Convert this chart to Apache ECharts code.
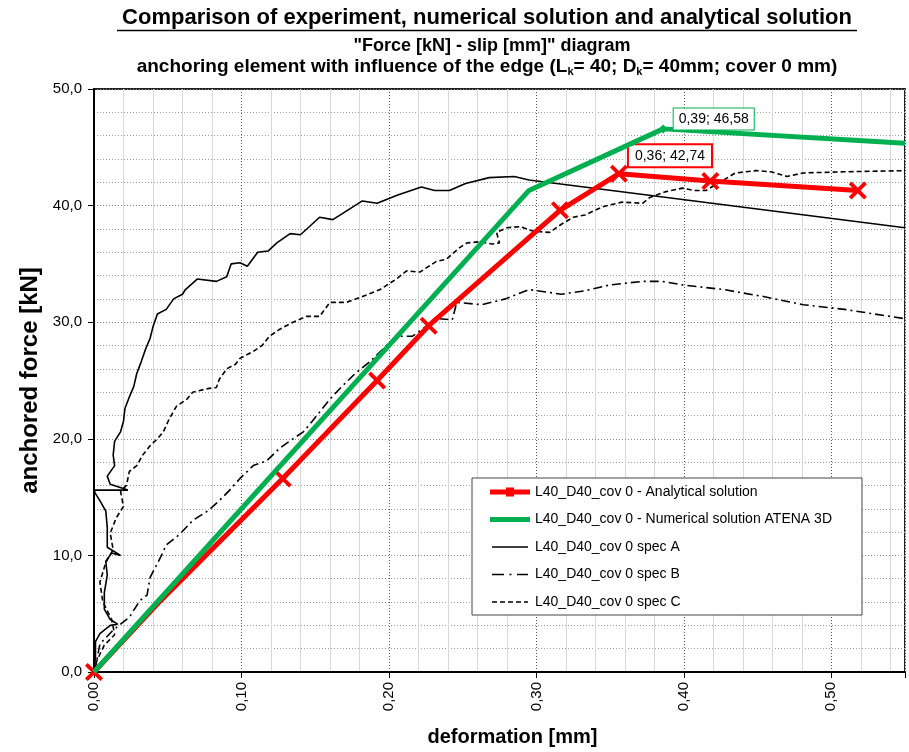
<!DOCTYPE html>
<html><head><meta charset="utf-8">
<script src="https://cdn.jsdelivr.net/npm/echarts@6/dist/echarts.min.js"></script>
<style>html,body{margin:0;padding:0;background:#fff}#c{width:909px;height:752px}</style>
</head><body><div id="c"></div>
<script>
// ---- data ----
const seriesNames = [
  'L40_D40_cov 0 - Analytical solution',
  'L40_D40_cov 0 - Numerical solution ATENA 3D',
  'L40_D40_cov 0 spec A',
  'L40_D40_cov 0 spec B',
  'L40_D40_cov 0 spec C'
];
const analyticalX = [0, 0.045, 0.128, 0.192, 0.227, 0.316, 0.356, 0.418, 0.518];
const analyticalY = [0, 6.1, 16.6, 25.0, 29.7, 39.6, 42.74, 42.1, 41.3];
const analyticalNoMarker = [1];
const analyticalLabelIndex = 6;
const numericalX = [0, 0.295, 0.386, 0.55];
const numericalY = [0, 41.3, 46.58, 45.35];
const numericalLabelIndex = 2;
const specAX = [0,0.001,0.001,0.004,0.011,0.016,0.011,0.007,0.007,0.009,0.008,0.012,0.018,0.009,0.009,0.008,0.004,0.001,0.0,0.023,0.011,0.009,0.014,0.013,0.014,0.018,0.020,0.021,0.024,0.027,0.029,0.032,0.035,0.038,0.040,0.043,0.049,0.054,0.060,0.062,0.070,0.083,0.090,0.093,0.099,0.104,0.111,0.118,0.124,0.133,0.140,0.153,0.162,0.182,0.192,0.206,0.222,0.231,0.241,0.252,0.268,0.285,0.295,0.55];
const specAY = [0,1.3,2.6,3.3,4.0,4.1,4.5,5.4,6.8,8.3,9.5,10.2,10.0,10.7,12.4,13.8,14.7,15.3,15.6,15.6,16.1,16.8,17.7,18.6,19.8,20.6,21.5,22.6,23.6,24.5,25.6,26.6,27.7,28.6,29.6,30.7,31.1,32.0,32.4,32.8,33.7,33.5,33.9,35.0,35.1,34.8,36.0,36.1,36.8,37.6,37.5,39.0,38.8,40.4,40.2,40.9,41.6,41.3,41.3,41.9,42.4,42.5,42.2,38.1];
const specBX = [0,0.001,0.004,0.013,0.018,0.024,0.031,0.036,0.038,0.045,0.049,0.058,0.067,0.077,0.085,0.092,0.099,0.108,0.117,0.126,0.135,0.142,0.148,0.160,0.169,0.178,0.187,0.196,0.205,0.216,0.226,0.234,0.243,0.246,0.263,0.279,0.295,0.317,0.333,0.350,0.372,0.385,0.399,0.427,0.454,0.481,0.509,0.55];
const specBY = [0,0.4,2.4,3.6,4.1,4.7,6.1,6.6,8.1,9.8,10.9,11.8,13.0,13.8,14.7,15.6,16.6,17.7,18.1,19.2,20.0,20.6,21.5,23.4,24.6,25.7,26.6,27.7,28.8,28.8,29.7,30.3,30.2,31.7,31.5,32.0,32.8,32.4,32.7,33.2,33.5,33.5,33.2,32.8,32.2,31.5,31.1,30.3];
const specCX = [0,0.002,0.007,0.014,0.012,0.006,0.004,0.008,0.013,0.011,0.015,0.020,0.018,0.022,0.024,0.029,0.033,0.038,0.043,0.047,0.051,0.056,0.063,0.067,0.077,0.083,0.085,0.090,0.096,0.099,0.108,0.114,0.119,0.126,0.135,0.144,0.153,0.160,0.171,0.182,0.194,0.205,0.212,0.221,0.232,0.239,0.248,0.253,0.262,0.270,0.275,0.273,0.280,0.289,0.298,0.309,0.317,0.325,0.333,0.345,0.358,0.372,0.377,0.388,0.399,0.407,0.415,0.423,0.435,0.449,0.459,0.470,0.481,0.509,0.55];
const specCY = [0,1.0,2.3,3.2,4.5,6.0,7.7,9.4,10.5,11.9,13.2,14.2,15.5,16.0,17.2,17.7,18.6,19.4,20.0,20.6,21.7,22.8,23.4,24.0,24.3,24.4,25.1,26.0,26.4,26.9,27.5,28.0,28.8,29.4,30.0,30.5,30.5,31.7,31.7,32.2,32.8,33.7,34.4,34.3,35.2,35.4,36.4,36.8,36.9,36.7,36.8,37.7,38.1,38.2,37.8,37.7,38.4,39.0,39.2,39.9,40.3,40.2,40.7,41.2,41.5,41.3,41.3,41.9,42.8,43.0,42.9,42.5,42.8,42.9,43.0];
const titleLines = [
  'Comparison of experiment, numerical solution and analytical solution',
  '"Force [kN] - slip [mm]" diagram',
  'anchoring element with influence of the edge (L{s|k}= 40; D{s|k}= 40mm; cover 0 mm)'
];
const xAxisName = 'deformation [mm]';
const yAxisName = 'anchored force [kN]';
const xMin = 0, xMax = 0.55, xMajor = 0.1, xMinor = 0.02;
const yMin = 0, yMax = 50, yMajor = 10, yMinor = 2;

// ---- helpers ----
const zip = (xs, ys) => xs.slice(0, Math.min(xs.length, ys.length)).map((x, i) => [x, ys[i]]);
const comma = (v, d) => v.toFixed(d).replace('.', ',');
const pairLabel = p => comma(p.value[0], 2) + '; ' + comma(p.value[1], 2);
const crossPath = 'path://M0,3 L3,0 L10,7 L17,0 L20,3 L13,10 L20,17 L17,20 L10,13 L3,20 L0,17 L7,10 Z';
const FONT = '"Liberation Sans", Arial, sans-serif';

// legend icons drawn in a 40x14 box (tiny corner triangles fix the bounding box)
const BOX = 'M0,0 L0.05,0 L0,0.05 Z M40,14 L39.95,14 L40,13.95 Z ';
const bar = (x1, x2, y1, y2) => `M${x1},${y1} L${x2},${y1} L${x2},${y2} L${x1},${y2} Z `;
const iconRed = 'path://' + BOX + bar(0, 40, 4.6, 9.4) + bar(16, 24, 2.5, 11.5);
const iconGreen = 'path://' + BOX + bar(0, 40, 4.5, 9.5);
const iconA = 'path://' + BOX + bar(2, 38, 6.2, 7.8);
const iconB = 'path://' + BOX + bar(2, 14, 6.2, 7.8) + bar(19.5, 21.5, 6.2, 7.8) + bar(27, 38, 6.2, 7.8);
const iconC = 'path://' + BOX + bar(2, 7, 6.2, 7.8) + bar(10, 15, 6.2, 7.8) + bar(18, 23, 6.2, 7.8) + bar(26, 31, 6.2, 7.8) + bar(34, 38, 6.2, 7.8);
const legendIcons = [iconRed, iconGreen, iconA, iconB, iconC];

const analyticalData = zip(analyticalX, analyticalY).map((p, i) => {
  const d = { value: p };
  if (analyticalNoMarker.includes(i)) d.symbol = 'none';
  if (i === analyticalLabelIndex) {
    d.label = { show: true, position: 'right', offset: [-4, -18], formatter: pairLabel,
      backgroundColor: '#fff', borderColor: '#ff0000', borderWidth: 2, padding: [4, 6, 3, 6],
      color: '#000', fontSize: 14, fontFamily: FONT };
  }
  return d;
});
const numericalData = zip(numericalX, numericalY).map((p, i) => {
  const d = { value: p };
  if (i === numericalLabelIndex) {
    d.symbol = 'diamond'; d.symbolSize = 9;
    d.label = { show: true, position: 'right', offset: [1, -10], formatter: pairLabel,
      backgroundColor: '#fff', borderColor: '#00b050', borderWidth: 1, padding: [4, 5, 3, 5],
      color: '#000', fontSize: 14, fontFamily: FONT };
  }
  return d;
});

const chart = echarts.init(document.getElementById('c'), null, { renderer: 'canvas' });
const minorColors = c => ['rgba(0,0,0,0)', c, c, c, c];

chart.setOption({
  animation: false,
  backgroundColor: '#fff',
  graphic: [
    { type: 'text', x: 487, y: 7, style: { text: titleLines[0], font: 'bold 22px ' + FONT, fill: '#000', textAlign: 'center' }, z: 10 },
    { type: 'line', shape: { x1: 117, y1: 30.5, x2: 857, y2: 30.5 }, style: { stroke: '#000', lineWidth: 1.5 }, z: 10 },
    { type: 'text', x: 492, y: 37, style: { text: titleLines[1], font: 'bold 18px ' + FONT, fill: '#000', textAlign: 'center' }, z: 10 },
    { type: 'text', x: 487, y: 57, style: { text: titleLines[2], font: 'bold 19px ' + FONT, fill: '#000', textAlign: 'center',
        rich: { s: { font: 'bold 11px ' + FONT, verticalAlign: 'bottom', padding: [9, 0, 0, 0] } } }, z: 10 }
  ],
  grid: { left: 94, right: 4, top: 89, bottom: 77, show: true, borderColor: '#222', borderWidth: 2, backgroundColor: '#fff' },
  legend: {
    data: seriesNames.map((n, i) => ({ name: n, icon: legendIcons[i] })),
    orient: 'vertical', left: 472, top: 478,
    backgroundColor: '#fff', borderColor: '#444', borderWidth: 1,
    padding: [7, 30, 6, 18], itemGap: 13.5, itemWidth: 40, itemHeight: 14,
    textStyle: { fontSize: 14, fontFamily: FONT, color: '#000' }
  },
  xAxis: [
    { type: 'value', min: xMin, max: xMax, interval: xMajor,
      name: xAxisName, nameLocation: 'middle', nameGap: 55,
      nameTextStyle: { fontSize: 20, fontWeight: 'bold', fontFamily: FONT, color: '#000', padding: [0, 0, 0, 26] },
      axisLine: { show: true, onZero: false, lineStyle: { color: '#000', width: 2 } },
      axisTick: { show: true, length: 6, lineStyle: { color: '#000' } },
      axisLabel: { rotate: 90, margin: 10, fontSize: 15, fontFamily: FONT, color: '#000',
        formatter: v => (v > xMax - xMajor / 2 + 1e-9 ? '' : comma(v, 2)) },
      splitLine: { show: true, lineStyle: { color: '#555', type: [1, 2], width: 1 } }, z: 3 },
    { type: 'value', min: xMin, max: xMax, interval: xMinor,
      axisLine: { show: false }, axisTick: { show: false }, axisLabel: { show: false },
      splitLine: { show: true, lineStyle: { color: minorColors('#d8d8d8'), width: 1 } }, z: 1 }
  ],
  yAxis: [
    { type: 'value', min: yMin, max: yMax, interval: yMajor,
      name: yAxisName, nameLocation: 'middle', nameGap: 50,
      nameTextStyle: { fontSize: 24, fontWeight: 'bold', fontFamily: FONT, color: '#000' },
      axisLine: { show: true, onZero: false, lineStyle: { color: '#000', width: 2 } },
      axisTick: { show: true, length: 6, lineStyle: { color: '#000' } },
      axisLabel: { margin: 12, fontSize: 15, fontFamily: FONT, color: '#000', formatter: v => comma(v, 1) },
      splitLine: { show: true, lineStyle: { color: '#888', type: [1, 2], width: 1 } }, z: 3 },
    { type: 'value', min: yMin, max: yMax, interval: yMinor,
      axisLine: { show: false }, axisTick: { show: false }, axisLabel: { show: false },
      splitLine: { show: true, lineStyle: { color: minorColors('#999'), type: [1, 2], width: 1 } }, z: 1 }
  ],
  series: [
    { name: seriesNames[2], type: 'line', data: zip(specAX, specAY), symbol: 'none', z: 4,
      lineStyle: { color: '#000', width: 1.6 }, itemStyle: { color: '#000' } },
    { name: seriesNames[3], type: 'line', data: zip(specBX, specBY), symbol: 'none', z: 4,
      lineStyle: { color: '#000', width: 1.6, type: [9, 4, 2, 4] }, itemStyle: { color: '#000' } },
    { name: seriesNames[4], type: 'line', data: zip(specCX, specCY), symbol: 'none', z: 4,
      lineStyle: { color: '#000', width: 1.6, type: [5, 3] }, itemStyle: { color: '#000' } },
    { name: seriesNames[0], type: 'line', data: analyticalData, symbol: crossPath, symbolSize: 18, z: 6,
      showSymbol: true, lineStyle: { color: '#ff0000', width: 5 }, itemStyle: { color: '#ff0000' } },
    { name: seriesNames[1], type: 'line', data: numericalData, symbol: 'none', z: 7,
      showSymbol: true, lineStyle: { color: '#00b050', width: 5 }, itemStyle: { color: '#00b050' } }
  ]
});
</script></body></html>
